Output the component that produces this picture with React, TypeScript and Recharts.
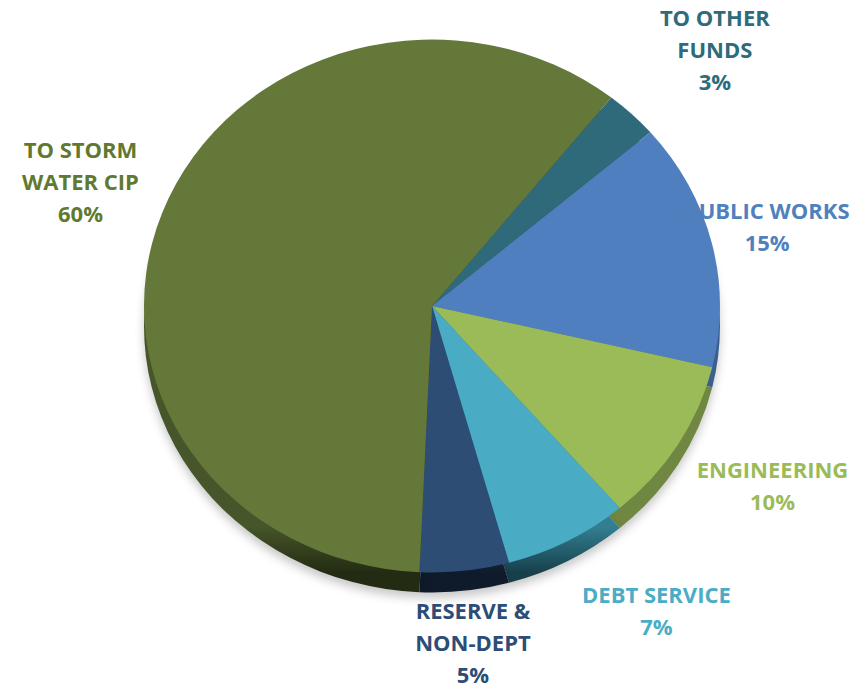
import React from "react";
import { PieChart, Pie, Cell } from "recharts";

// ---- data ----
const categories = [
  "TO OTHER FUNDS",
  "PUBLIC WORKS",
  "ENGINEERING",
  "DEBT SERVICE",
  "RESERVE & NON-DEPT",
  "TO STORM WATER CIP",
];
const shares = [3, 15, 10, 7, 5, 60];
const labelLines = [
  ["TO OTHER", "FUNDS"],
  ["PUBLIC WORKS"],
  ["ENGINEERING"],
  ["DEBT SERVICE"],
  ["RESERVE &", "NON-DEPT"],
  ["TO STORM", "WATER CIP"],
];

// ---- styles ----
const faceColors = ["#2e6a7a", "#4f7fbf", "#9bbb59", "#4aabc5", "#2d4d74", "#64783a"];
const sideTop = ["#234f5b", "#3b5f8f", "#6f8740", "#337f92", "#213a57", "#46552a"];
const sideColors = ["#10282f", "#1d3049", "#3a4720", "#17404b", "#0f1b2b", "#232c12"];
const textColors = ["#2e6b7b", "#4f81bd", "#9bbb59", "#4bacc6", "#2c4d75", "#5f7a30"];
// label placement: angular nudge (deg, clockwise) and distance from centre
const labelNudge = [4.2, 0.7, -3.2, -8.1, -0.4, -1.4];
const labelDist = [380, 344, 386, 380, 341, 372];

const W = 866;
const H = 692;
const CX = 432;
const CY = 306;
const R = 288;
const TILT = 0.925;
const DEPTH = 20;
const FONT = 22;
const LINE = 32;

const data = categories.map((name, i) => ({ name, value: shares[i] }));

const renderLabel = (props: any) => {
  const { midAngle, index, value } = props;
  const theta = ((90 - midAngle + labelNudge[index]) * Math.PI) / 180;
  const d = labelDist[index];
  const x = CX + d * Math.sin(theta);
  const y = CY - d * Math.cos(theta);
  const lines = [...labelLines[index], `${value}%`];
  const top = y - ((lines.length - 1) * LINE) / 2;
  return (
    <text
      key={`lbl-${index}`}
      x={x}
      y={top}
      textAnchor="middle"
      fill={textColors[index]}
      fontFamily="'Open Sans', Lato, sans-serif"
      fontWeight={700}
      fontSize={FONT}
    >
      {lines.map((t, k) => (
        <tspan key={k} x={x} dy={k === 0 ? 6 : LINE}>
          {t}
        </tspan>
      ))}
    </text>
  );
};

export default function App() {
  return (
    <div style={{ position: "absolute", left: 0, top: 0, width: W, height: H, background: "#fff" }}>
      <style>{`
        .side-pie .recharts-pie-sector { transform: scaleY(${TILT}); transform-origin: ${CX}px ${CY + DEPTH}px; }
        .top-pie .recharts-pie-sector { transform: scaleY(${TILT}); transform-origin: ${CX}px ${CY}px; }
        .side-pie .recharts-pie-sector path { filter: drop-shadow(0px 6px 5px rgba(0,0,0,0.22)); }
      `}</style>
      <PieChart width={W} height={H} margin={{ top: 0, right: 0, bottom: 0, left: 0 }}>
        <defs>
          {sideColors.map((c, i) => (
            <linearGradient key={i} id={`side-${i}`} x1="0" y1={CY + R * TILT - 30} x2="0" y2={CY + R * TILT + DEPTH} gradientUnits="userSpaceOnUse">
              <stop offset="0%" stopColor={sideTop[i]} />
              <stop offset="100%" stopColor={sideColors[i]} />
            </linearGradient>
          ))}
        </defs>
        <Pie
          className="side-pie"
          data={data}
          dataKey="value"
          nameKey="name"
          cx={CX}
          cy={CY + DEPTH}
          outerRadius={R}
          startAngle={51.5}
          endAngle={-308.5}
          stroke="none"
          label={renderLabel}
          labelLine={false}
          isAnimationActive={false}
        >
          {data.map((_, i) => (
            <Cell key={i} fill={`url(#side-${i})`} />
          ))}
        </Pie>
        <Pie
          className="top-pie"
          data={data}
          dataKey="value"
          nameKey="name"
          cx={CX}
          cy={CY}
          outerRadius={R}
          startAngle={51.5}
          endAngle={-308.5}
          stroke="none"
          label={false}
          labelLine={false}
          isAnimationActive={false}
        >
          {data.map((_, i) => (
            <Cell key={i} fill={faceColors[i]} />
          ))}
        </Pie>
      </PieChart>
    </div>
  );
}
